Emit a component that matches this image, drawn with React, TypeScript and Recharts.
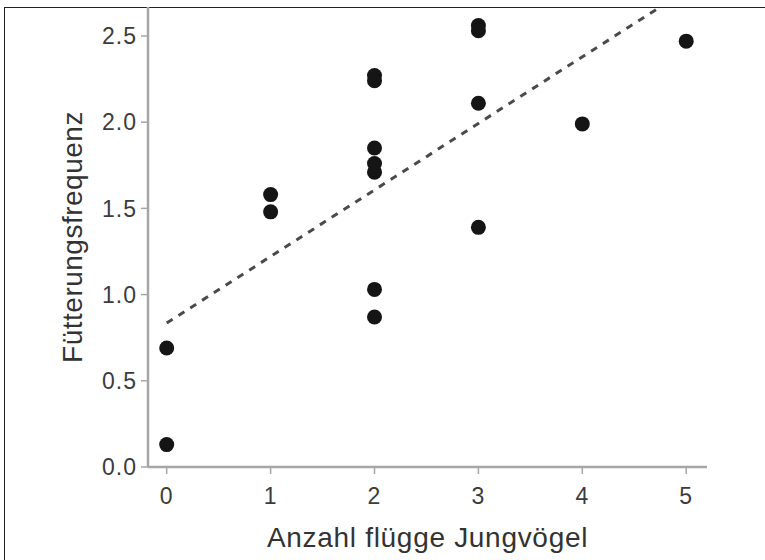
import React from 'react'
import {
  ScatterChart,
  Scatter,
  XAxis,
  YAxis,
  ReferenceLine,
  Label,
} from 'recharts'

// Anzahl flügge Jungvögel (x) und Fütterungsfrequenz (y)
const nestlings = [0, 0, 1, 1, 2, 2, 2, 2, 2, 2, 2, 3, 3, 3, 3, 4, 5]
const feeding = [0.69, 0.13, 1.58, 1.48, 2.27, 2.24, 1.85, 1.76, 1.71, 1.03, 0.87, 2.56, 2.53, 2.11, 1.39, 1.99, 2.47]

const xTicks = [0, 1, 2, 3, 4, 5]
const yTicks = [0, 0.5, 1.0, 1.5, 2.0, 2.5]

// Regressionsgerade
const intercept = 0.835
const slope = 0.386

const xDomain: [number, number] = [-0.18, 5.2]
const yDomain: [number, number] = [0, 2.668]

const data = nestlings.map((n, i) => ({ x: n, y: feeding[i] }))

const W = 765
const H = 560
const margin = { top: 7, right: 58, bottom: 23, left: 88 }
const yAxisWidth = 60
const xAxisHeight = 70

const axisColor = '#a6a6a6'
const tickStyle = { fontSize: 23, fill: '#3c3c3c', fontFamily: '"Liberation Sans", Arial, sans-serif', letterSpacing: 1 }
const labelFont = '"Liberation Sans", Arial, sans-serif'

const plotLeft = margin.left + yAxisWidth
const plotRight = W - margin.right
const plotTop = margin.top
const plotBottom = H - margin.bottom - xAxisHeight

const Dot = (props: any) => <circle cx={props.cx} cy={props.cy} r={7.5} fill="#151515" />

export default function App() {
  return (
    <div style={{ position: 'absolute', left: 0, top: 0, width: W, height: H, overflow: 'hidden', background: '#fff' }}>
      <div
        style={{
          position: 'absolute',
          left: 4,
          top: 7,
          width: W,
          height: H,
          borderLeft: '1.5px solid #222',
          borderTop: '1.5px solid #222',
        }}
      />
      <div style={{ position: 'absolute', left: 0, top: 0 }}>
        <ScatterChart width={W} height={H} margin={margin}>
          <XAxis
            type="number"
            dataKey="x"
            domain={xDomain}
            ticks={xTicks}
            allowDataOverflow
            height={xAxisHeight}
            axisLine={{ stroke: axisColor, strokeWidth: 2.5 }}
            tickLine={{ stroke: axisColor, strokeWidth: 1.5 }}
            tickSize={7}
            tickMargin={14}
            tick={tickStyle}
          >
            <Label
              content={() => (
                <text
                  x={(plotLeft + plotRight) / 2}
                  y={547}
                  textAnchor="middle"
                  fontSize={28}
                  fontFamily={labelFont}
                  letterSpacing={0.7}
                  fill="#333"
                >
                  Anzahl flügge Jungvögel
                </text>
              )}
            />
          </XAxis>
          <YAxis
            type="number"
            dataKey="y"
            domain={yDomain}
            ticks={yTicks}
            allowDataOverflow
            width={yAxisWidth}
            axisLine={{ stroke: axisColor, strokeWidth: 2.5 }}
            tickLine={{ stroke: axisColor, strokeWidth: 1.5 }}
            tickSize={7}
            tickMargin={4}
            tick={tickStyle}
            tickFormatter={(v: number) => v.toFixed(1)}
          >
            <Label
              content={() => (
                <text
                  x={82}
                  y={(plotTop + plotBottom) / 2}
                  transform={`rotate(-90, 82, ${(plotTop + plotBottom) / 2})`}
                  textAnchor="middle"
                  fontSize={28}
                  fontFamily={labelFont}
                  letterSpacing={0.5}
                  fill="#333"
                >
                  Fütterungsfrequenz
                </text>
              )}
            />
          </YAxis>
          <ReferenceLine
            segment={[
              { x: 0, y: intercept },
              { x: xDomain[1], y: intercept + slope * xDomain[1] },
            ]}
            stroke="#4a4a4a"
            strokeWidth={3}
            strokeDasharray="7 7"
            ifOverflow="hidden"
          />
          <Scatter data={data} shape={Dot} isAnimationActive={false} />
        </ScatterChart>
      </div>
    </div>
  )
}
